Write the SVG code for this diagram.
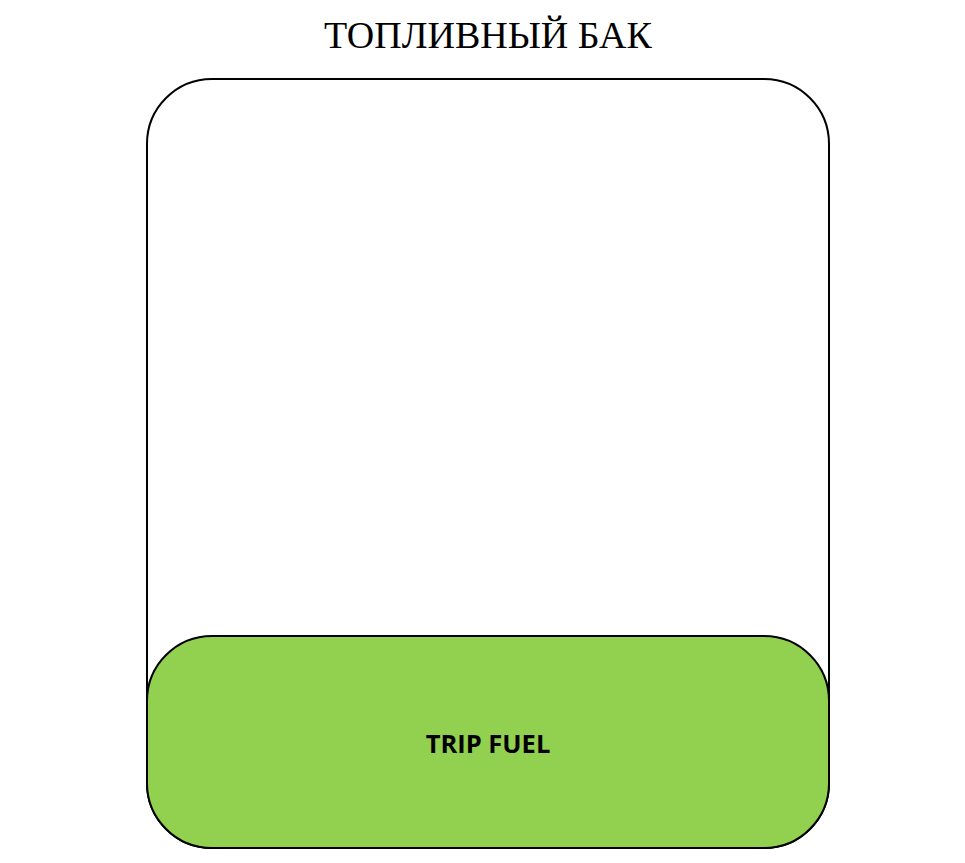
<svg xmlns="http://www.w3.org/2000/svg" width="965" height="863" viewBox="0 0 965 863">
<style>
.box{stroke:#000;stroke-width:2}
.title{font-family:"Liberation Serif","DejaVu Serif",serif;font-size:38px;fill:#000}
.lbl{font-family:"Open Sans","Liberation Sans",sans-serif;font-weight:bold;font-size:25.5px;fill:#000}
</style>
<rect width="965" height="863" fill="#fff"/>
<text class="title" x="488" y="48" text-anchor="middle">ТОПЛИВНЫЙ БАК</text>
<g id="tank">
<rect class="box" x="147" y="79" width="682" height="769" rx="65" ry="65" fill="#fff"/>
</g>
<g id="trip-fuel">
<rect class="box" x="147" y="636" width="682" height="212" rx="65" ry="65" fill="#92d050"/>
<text class="lbl" x="488" y="753" text-anchor="middle">TRIP FUEL</text>
</g>
<g id="connectors"/>
</svg>
